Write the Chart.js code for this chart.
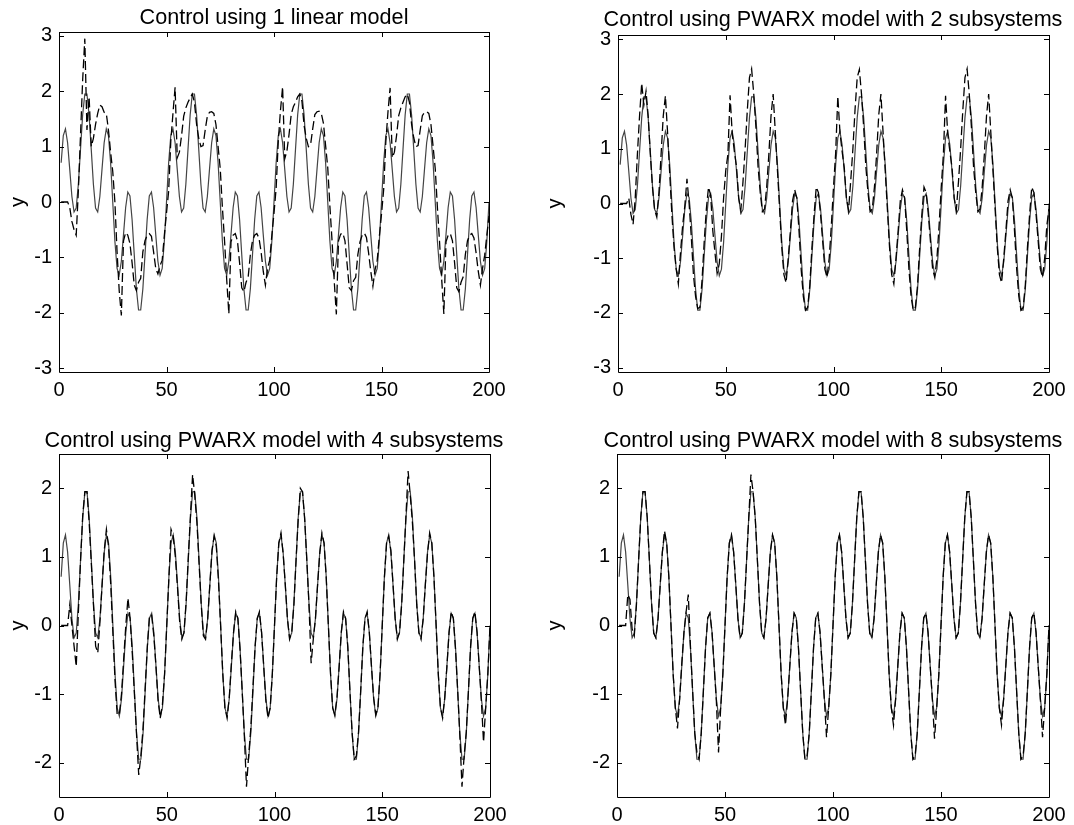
<!DOCTYPE html>
<html>
<head>
<meta charset="utf-8">
<script src="https://cdn.jsdelivr.net/npm/chart.js@4/dist/chart.umd.min.js"></script>
<style>
body{margin:0;background:#fff;width:1074px;height:825px;position:relative;overflow:hidden;font-family:'Liberation Sans',Arial,sans-serif}
canvas{position:absolute}
.ttl{position:absolute;width:600px;text-align:center;font-size:21.6px;line-height:24px;color:#000;white-space:nowrap}
</style>
</head>
<body>
<canvas id="c1"></canvas>
<canvas id="c2"></canvas>
<canvas id="c3"></canvas>
<canvas id="c4"></canvas>
<div class="ttl" style="left:-26px;top:5px">Control using 1 linear model</div>
<div class="ttl" style="left:533px;top:7px">Control using PWARX model with 2 subsystems</div>
<div class="ttl" style="left:-26px;top:428px">Control using PWARX model with 4 subsystems</div>
<div class="ttl" style="left:533px;top:428px">Control using PWARX model with 8 subsystems</div>
<script>
// reference trajectory (solid), same in every panel
const ref = [
  0.71,1.20,1.32,1.07,0.59,0.10,-0.18,-0.11,0.32,0.95,
  1.57,1.95,1.95,1.57,0.95,0.32,-0.11,-0.18,0.10,0.59,
  1.07,1.32,1.20,0.71,0.00,-0.71,-1.20,-1.32,-1.07,-0.59,
  -0.10,0.18,0.11,-0.32,-0.95,-1.57,-1.95,-1.95,-1.57,-0.95,
  -0.32,0.11,0.18,-0.10,-0.59,-1.07,-1.32,-1.20,-0.71,0.00,
  0.71,1.20,1.32,1.07,0.59,0.10,-0.18,-0.11,0.32,0.95,
  1.57,1.95,1.95,1.57,0.95,0.32,-0.11,-0.18,0.10,0.59,
  1.07,1.32,1.20,0.71,0.00,-0.71,-1.20,-1.32,-1.07,-0.59,
  -0.10,0.18,0.11,-0.32,-0.95,-1.57,-1.95,-1.95,-1.57,-0.95,
  -0.32,0.11,0.18,-0.10,-0.59,-1.07,-1.32,-1.20,-0.71,0.00,
  0.71,1.20,1.32,1.07,0.59,0.10,-0.18,-0.11,0.32,0.95,
  1.57,1.95,1.95,1.57,0.95,0.32,-0.11,-0.18,0.10,0.59,
  1.07,1.32,1.20,0.71,0.00,-0.71,-1.20,-1.32,-1.07,-0.59,
  -0.10,0.18,0.11,-0.32,-0.95,-1.57,-1.95,-1.95,-1.57,-0.95,
  -0.32,0.11,0.18,-0.10,-0.59,-1.07,-1.32,-1.20,-0.71,0.00,
  0.71,1.20,1.32,1.07,0.59,0.10,-0.18,-0.11,0.32,0.95,
  1.57,1.95,1.95,1.57,0.95,0.32,-0.11,-0.18,0.10,0.59,
  1.07,1.32,1.20,0.71,0.00,-0.71,-1.20,-1.32,-1.07,-0.59,
  -0.10,0.18,0.11,-0.32,-0.95,-1.57,-1.95,-1.95,-1.57,-0.95,
  -0.32,0.11,0.18,-0.10,-0.59,-1.07,-1.32,-1.20,-0.71,0.00
];

// closed-loop output, 1 linear model
const yLinear = [
  0,0,0,0,-0.10,-0.35,-0.50,-0.60,0.20,1.20,
  2.20,2.95,1.30,1.90,1.00,1.15,1.40,1.60,1.75,1.72,
  1.62,1.60,1.30,0.90,0.55,0.00,-0.90,-1.60,-2.05,-0.70,
  -0.55,-0.60,-0.75,-1.10,-1.50,-1.60,-1.45,-1.38,-0.90,-0.70,
  -0.60,-0.57,-0.62,-0.90,-1.20,-1.30,-1.15,-1.05,-0.60,-0.20,
  0.20,1.10,1.60,2.07,0.80,0.90,1.20,1.55,1.70,1.80,
  1.88,1.95,1.80,1.40,1.15,1.00,1.02,1.30,1.55,1.62,
  1.63,1.60,1.40,1.00,0.60,-0.10,-0.70,-1.40,-2.02,-0.72,
  -0.60,-0.57,-0.70,-1.10,-1.55,-1.62,-1.45,-1.35,-0.95,-0.70,
  -0.60,-0.57,-0.65,-0.90,-1.25,-1.50,-1.20,-1.05,-0.60,-0.20,
  0.25,1.10,1.65,2.08,0.78,0.92,1.22,1.58,1.72,1.80,
  1.90,1.95,1.82,1.38,1.15,1.00,1.03,1.32,1.58,1.63,
  1.64,1.60,1.42,1.02,0.62,-0.08,-0.70,-1.42,-2.03,-0.70,
  -0.58,-0.56,-0.70,-1.12,-1.55,-1.60,-1.42,-1.36,-0.95,-0.72,
  -0.60,-0.56,-0.64,-0.92,-1.25,-1.52,-1.22,-1.05,-0.62,-0.22,
  0.22,1.08,1.62,2.06,0.80,0.90,1.20,1.56,1.70,1.80,
  1.90,1.95,1.80,1.40,1.16,1.00,1.02,1.30,1.56,1.62,
  1.63,1.60,1.40,1.00,0.60,-0.10,-0.72,-1.40,-2.02,-0.72,
  -0.60,-0.57,-0.70,-1.10,-1.55,-1.62,-1.45,-1.35,-0.95,-0.70,
  -0.60,-0.57,-0.65,-0.92,-1.25,-1.50,-1.20,-0.96,-0.60,-0.25
];

// closed-loop output, PWARX with 2 subsystems
const yPwarx2 = [
  0,0,0,0,0.10,-0.20,-0.38,0.10,0.90,1.60,
  2.20,1.80,2.05,1.60,0.90,0.30,-0.12,-0.25,0.20,0.90,
  1.60,1.97,1.30,0.55,-0.20,-0.80,-1.20,-1.47,-0.90,-0.40,
  -0.05,0.45,0.00,-0.60,-1.30,-1.70,-1.92,-1.90,-1.40,-0.70,
  -0.10,0.30,0.15,-0.50,-0.90,-1.28,-1.10,-0.60,0.10,0.60,
  0.90,1.98,1.28,0.95,0.67,0.10,-0.12,0.40,1.00,1.70,
  2.30,2.46,2.00,1.40,0.67,0.20,-0.15,-0.10,0.30,0.90,
  1.60,2.00,1.30,0.60,-0.10,-0.80,-1.30,-1.45,-1.00,-0.50,
  0.05,0.25,0.10,-0.50,-1.20,-1.70,-1.95,-1.90,-1.50,-0.80,
  -0.20,0.30,0.20,-0.20,-0.70,-1.20,-1.35,-1.00,-0.40,0.30,
  0.92,1.96,1.30,0.95,0.65,0.10,-0.12,0.42,1.00,1.72,
  2.30,2.45,2.00,1.40,0.68,0.20,-0.15,-0.10,0.30,0.90,
  1.62,2.00,1.30,0.60,-0.10,-0.80,-1.30,-1.47,-1.00,-0.50,
  0.05,0.25,0.10,-0.50,-1.20,-1.70,-1.95,-1.90,-1.50,-0.80,
  -0.20,0.30,0.20,-0.20,-0.70,-1.20,-1.35,-1.00,-0.40,0.30,
  0.90,1.97,1.28,0.95,0.66,0.10,-0.12,0.40,1.00,1.70,
  2.30,2.46,2.00,1.40,0.67,0.20,-0.15,-0.10,0.30,0.90,
  1.60,2.00,1.30,0.60,-0.10,-0.80,-1.30,-1.45,-1.00,-0.50,
  0.05,0.25,0.10,-0.50,-1.20,-1.70,-1.95,-1.90,-1.50,-0.80,
  -0.20,0.30,0.20,-0.20,-0.70,-1.20,-1.35,-1.00,-0.40,-0.10
];

// closed-loop output, PWARX with 4 subsystems
const yPwarx4 = [
  0,0,0,0,0.30,0.00,-0.30,-0.60,0.20,0.95,
  1.60,1.95,1.95,1.50,0.90,0.30,-0.30,-0.40,0.05,0.60,
  1.10,1.40,1.15,0.60,-0.10,-0.80,-1.30,-1.30,-1.00,-0.50,
  0.00,0.40,0.10,-0.40,-1.00,-1.60,-2.18,-1.90,-1.50,-0.90,
  -0.30,0.15,0.15,-0.15,-0.60,-1.10,-1.35,-1.15,-0.70,0.00,
  0.70,1.40,1.30,1.00,0.55,0.05,-0.20,-0.10,0.35,1.00,
  1.60,2.20,1.90,1.50,0.90,0.30,-0.15,-0.20,0.10,0.60,
  1.10,1.30,1.15,0.65,0.00,-0.70,-1.20,-1.35,-1.05,-0.55,
  -0.10,0.20,0.10,-0.35,-0.95,-1.60,-2.35,-1.90,-1.50,-0.90,
  -0.30,0.10,0.20,-0.10,-0.60,-1.10,-1.35,-1.20,-0.70,0.00,
  0.70,1.20,1.35,1.05,0.60,0.10,-0.20,-0.10,0.30,0.95,
  1.55,2.00,1.95,1.55,0.95,0.30,-0.55,-0.20,0.10,0.60,
  1.05,1.35,1.20,0.70,0.00,-0.70,-1.20,-1.30,-1.05,-0.60,
  -0.10,0.20,0.10,-0.30,-0.95,-1.55,-1.95,-1.90,-1.55,-0.95,
  -0.30,0.10,0.20,-0.10,-0.60,-1.05,-1.30,-1.20,-0.70,0.00,
  0.70,1.20,1.30,1.10,0.60,0.10,-0.20,-0.10,0.30,0.95,
  1.60,2.25,1.90,1.50,0.95,0.30,-0.10,-0.20,0.10,0.60,
  1.05,1.35,1.20,0.70,0.00,-0.70,-1.20,-1.35,-1.05,-0.60,
  -0.10,0.20,0.10,-0.35,-0.95,-1.60,-2.35,-1.90,-1.55,-0.95,
  -0.30,0.10,0.20,-0.10,-0.60,-1.10,-1.70,-1.20,-0.70,0.00
];

// closed-loop output, PWARX with 8 subsystems
const yPwarx8 = [
  0,0,0,0,0.45,0.38,-0.05,-0.15,0.30,0.95,
  1.57,1.95,1.95,1.57,0.95,0.32,-0.11,-0.18,0.10,0.59,
  1.07,1.38,1.20,0.71,0.00,-0.71,-1.20,-1.50,-1.07,-0.55,
  -0.10,0.20,0.45,-0.30,-0.95,-1.57,-1.85,-1.95,-1.57,-0.95,
  -0.32,0.11,0.18,-0.10,-0.59,-1.10,-1.85,-1.20,-0.71,0.00,
  0.71,1.20,1.32,1.07,0.59,0.10,-0.18,-0.11,0.32,0.95,
  1.57,2.20,1.95,1.57,0.95,0.32,-0.11,-0.18,0.10,0.59,
  1.07,1.32,1.20,0.71,0.00,-0.71,-1.20,-1.45,-1.07,-0.59,
  -0.10,0.18,0.11,-0.32,-0.95,-1.57,-1.95,-1.90,-1.57,-0.95,
  -0.32,0.11,0.18,-0.10,-0.59,-1.07,-1.63,-1.20,-0.71,0.00,
  0.71,1.20,1.32,1.07,0.59,0.10,-0.18,-0.11,0.32,0.95,
  1.57,1.95,1.95,1.57,0.95,0.32,-0.11,-0.18,0.10,0.59,
  1.07,1.32,1.20,0.71,0.00,-0.71,-1.20,-1.45,-1.07,-0.59,
  -0.10,0.18,0.11,-0.32,-0.95,-1.57,-1.95,-1.90,-1.57,-0.95,
  -0.32,0.11,0.18,-0.10,-0.59,-1.07,-1.65,-1.20,-0.71,0.00,
  0.71,1.20,1.32,1.07,0.59,0.10,-0.18,-0.11,0.32,0.95,
  1.57,1.95,1.95,1.57,0.95,0.32,-0.11,-0.18,0.10,0.59,
  1.07,1.32,1.20,0.71,0.00,-0.71,-1.20,-1.45,-1.07,-0.59,
  -0.10,0.18,0.11,-0.32,-0.95,-1.57,-1.95,-1.90,-1.57,-0.95,
  -0.32,0.11,0.18,-0.10,-0.59,-1.07,-1.63,-1.20,-0.71,0.00
];

const xTicks = [0, 50, 100, 150, 200];
const yTicksTop = [-3, -2, -1, 0, 1, 2, 3];
const yTicksBottom = [-2, -1, 0, 1, 2];

const FONT = { family: "'Liberation Sans', Arial, sans-serif", size: 20 };

// box around the plot area and MATLAB-style inward ticks on all four sides
const boxTicks = {
  id: 'boxTicks',
  afterDraw(chart) {
    const { ctx, chartArea: a, scales } = chart;
    const L = 5;
    ctx.save();
    ctx.strokeStyle = '#000';
    ctx.lineWidth = 1;
    ctx.beginPath();
    ctx.rect(Math.round(a.left) + 0.5, Math.round(a.top) + 0.5,
             Math.round(a.right - a.left), Math.round(a.bottom - a.top));
    scales.x.ticks.forEach(t => {
      const px = Math.round(scales.x.getPixelForValue(t.value)) + 0.5;
      ctx.moveTo(px, a.bottom); ctx.lineTo(px, a.bottom - L);
      ctx.moveTo(px, a.top); ctx.lineTo(px, a.top + L);
    });
    scales.y.ticks.forEach(t => {
      const py = Math.round(scales.y.getPixelForValue(t.value)) + 0.5;
      ctx.moveTo(a.left, py); ctx.lineTo(a.left + L, py);
      ctx.moveTo(a.right, py); ctx.lineTo(a.right - L, py);
    });
    ctx.stroke();
    ctx.restore();
  }
};

const panels = [
  { id: 'c1', left: 0,   top: 0,   w: 537, h: 412, area: { l: 59, t: 32, r: 489, b: 372 }, yLim: 3.07, yTicks: yTicksTop,    out: yLinear },
  { id: 'c2', left: 537, top: 0,   w: 537, h: 412, area: { l: 81, t: 35, r: 512, b: 372 }, yLim: 3.08, yTicks: yTicksTop,    out: yPwarx2 },
  { id: 'c3', left: 0,   top: 412, w: 537, h: 413, area: { l: 59, t: 42, r: 490, b: 385 }, yLim: 2.5,  yTicks: yTicksBottom, out: yPwarx4 },
  { id: 'c4', left: 537, top: 412, w: 537, h: 413, area: { l: 80, t: 42, r: 512, b: 385 }, yLim: 2.5,  yTicks: yTicksBottom, out: yPwarx8 }
];

panels.forEach(p => {
  const canvas = document.getElementById(p.id);
  canvas.style.left = p.left + 'px';
  canvas.style.top = p.top + 'px';
  canvas.width = p.w;
  canvas.height = p.h;

  const toPts = arr => arr.map((v, i) => ({ x: i + 1, y: v }));

  new Chart(canvas.getContext('2d'), {
    type: 'line',
    data: {
      datasets: [
        {
          label: 'output',
          data: toPts(p.out),
          borderColor: '#000',
          borderWidth: 1.3,
          borderDash: [9, 4],
          pointRadius: 0,
          tension: 0,
          fill: false
        },
        {
          label: 'reference',
          data: toPts(ref),
          borderColor: '#444',
          borderWidth: 1.2,
          pointRadius: 0,
          tension: 0,
          fill: false
        }
      ]
    },
    options: {
      responsive: false,
      animation: false,
      devicePixelRatio: 1,
      layout: { padding: { left: 0, top: p.area.t, right: p.w - p.area.r, bottom: 0 } },
      plugins: { legend: { display: false }, tooltip: { enabled: false } },
      scales: {
        x: {
          type: 'linear',
          min: 0,
          max: 200,
          afterBuildTicks: s => { s.ticks = xTicks.map(v => ({ value: v })); },
          afterFit: s => { s.height = p.h - p.area.b; },
          grid: { display: false, drawTicks: false },
          border: { display: false },
          ticks: { font: FONT, color: '#000', padding: 6, maxRotation: 0 }
        },
        y: {
          type: 'linear',
          min: -p.yLim,
          max: p.yLim,
          afterBuildTicks: s => { s.ticks = p.yTicks.map(v => ({ value: v })); },
          afterFit: s => { s.width = p.area.l; },
          grid: { display: false, drawTicks: false },
          border: { display: false },
          ticks: { font: FONT, color: '#000', padding: 7 },
          title: { display: true, text: 'y', font: FONT, color: '#000', padding: { top: 6, bottom: 0 } }
        }
      }
    },
    plugins: [boxTicks]
  });
});
</script>
</body>
</html>
